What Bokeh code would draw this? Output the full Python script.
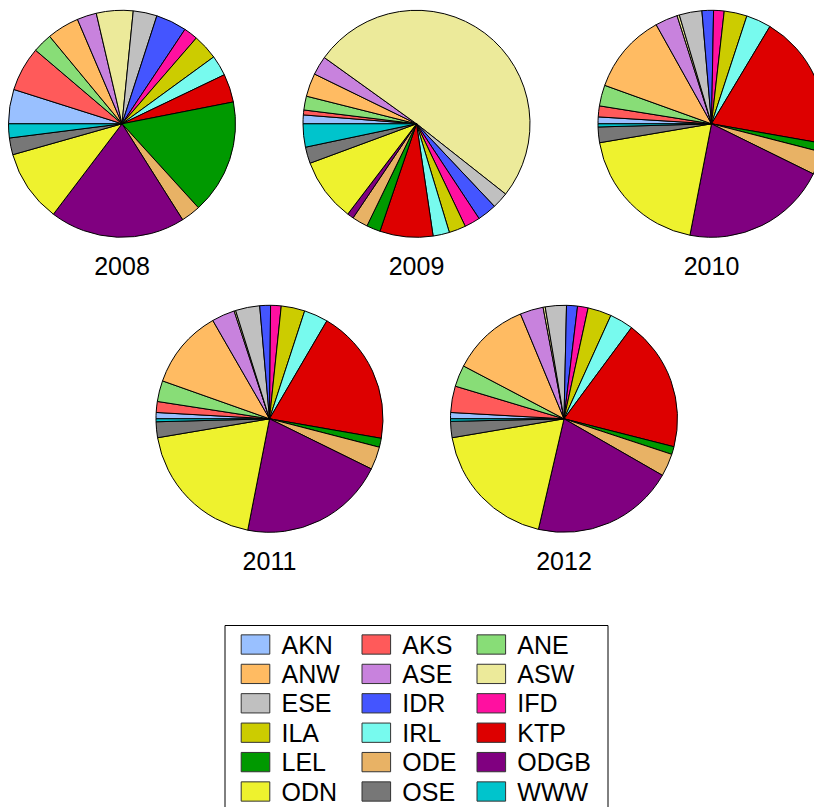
import numpy as np
from bokeh.plotting import figure
from bokeh.models import Range1d, ColumnDataSource
from bokeh.core.properties import value
from bokeh.embed import file_html
from bokeh.resources import INLINE

# ---------------- data ----------------
categories = ["AKN", "AKS", "ANE", "ANW", "ASE", "ASW", "ESE", "IDR", "IFD",
              "ILA", "IRL", "KTP", "LEL", "ODE", "ODGB", "ODN", "OSE", "WWW"]
colors = ["#99C0FF", "#FF5A5A", "#88DD77", "#FFBB62", "#C882DD", "#ECEA9A",
          "#C0C0C0", "#4455FF", "#FF10A0", "#CCCC00", "#77FAEE", "#DD0000",
          "#009900", "#E8B265", "#800080", "#EEF22E", "#777777", "#00C4CC"]
years = ["2008", "2009", "2010", "2011", "2012"]

shares_2008 = [17.6, 22.8, 10.0, 16.5, 10.0, 18.8, 12.2, 15.8, 7.2, 13.0, 10.5, 14.5,
               58.8, 10.0, 69.5, 37.0, 8.6, 7.2]
shares_2009 = [4.5, 2.5, 7.1, 11.9, 9.7, 182.5, 8.4, 9.9, 8.0, 8.6, 8.4, 27.2,
               7.1, 8.1, 3.3, 32.4, 8.4, 11.9]
shares_2010 = [3.5, 5.6, 10.7, 41.0, 11.5, 1.2, 11.6, 5.9, 5.4, 11.7, 12.8, 69.0,
               4.4, 11.8, 74.7, 69.4, 8.0, 1.6]
shares_2011 = [3.2, 5.6, 10.7, 40.5, 11.8, 0.8, 12.4, 5.5, 5.4, 12.1, 12.3, 69.5,
               4.6, 11.7, 74.8, 69.3, 8.1, 1.5]
shares_2012 = [3.2, 13.5, 11.0, 39.7, 11.9, 1.1, 10.8, 5.6, 5.4, 12.1, 12.1, 67.7,
               4.0, 11.6, 73.1, 67.3, 8.3, 1.3]
all_shares = [shares_2008, shares_2009, shares_2010, shares_2011, shares_2012]

# ---------------- layout ----------------
W, H = 814, 807
def fy(py):  # picture y (down) -> data y (up)
    return H - py

centers = [(121.5, 123.3), (416.0, 123.3), (711.0, 123.3), (269.0, 418.3), (563.5, 418.3)]
radius = 113.5
label_offset = 142.0

p = figure(width=W, height=H, x_range=Range1d(0, W), y_range=Range1d(0, H),
           output_backend="svg", toolbar_location=None, min_border=0)
p.axis.visible = False
p.grid.visible = False
p.outline_line_color = None
p.background_fill_color = "white"
p.border_fill_color = "white"

for yr, vals, (cx, cy) in zip(years, all_shares, centers):
    v = np.array(vals, dtype=float)
    frac = v / v.sum() * 2 * np.pi
    cum = np.concatenate([[0.0], np.cumsum(frac)])
    # clockwise from 9 o'clock
    ends = np.pi - cum[:-1]
    starts = np.pi - cum[1:]
    src = ColumnDataSource(dict(start=starts, end=ends, color=colors,
                                x=[cx] * len(v), y=[fy(cy)] * len(v)))
    p.wedge(x="x", y="y", radius=radius, start_angle="start", end_angle="end",
            fill_color="color", line_color="black", line_width=1, source=src)
    p.text(x=[cx], y=[fy(cy + label_offset)], text=[yr], text_align="center",
           text_baseline="middle", text_font=value("Liberation Sans"),
           text_font_size="25px", text_color="black")

# ---------------- legend ----------------
box_left, box_right, box_top = 224.5, 607.5, 625.0
p.quad(left=[box_left], right=[box_right], top=[fy(box_top)], bottom=[fy(830)],
       fill_color=None, line_color="black", line_width=1)

col_x = [255.0, 375.8, 490.8]
text_dx = 26.0
row_y0, row_dy = 644.0, 29.4
sw_w, sw_h = 28.6, 19.3
lx, ly, lt, tx = [], [], [], []
for i, cat in enumerate(categories):
    r, c = divmod(i, 3)
    lx.append(col_x[c])
    ly.append(fy(row_y0 + r * row_dy))
    tx.append(col_x[c] + text_dx)
    lt.append(cat)
p.rect(x=lx, y=ly, width=sw_w, height=sw_h, fill_color=colors,
       line_color="#333333", line_width=1)
p.text(x=tx, y=ly, text=lt, text_align="left", text_baseline="middle",
       text_font=value("Liberation Sans"), text_font_size="25px", text_color="black")

open("out.html", "w").write(file_html(p, INLINE))
